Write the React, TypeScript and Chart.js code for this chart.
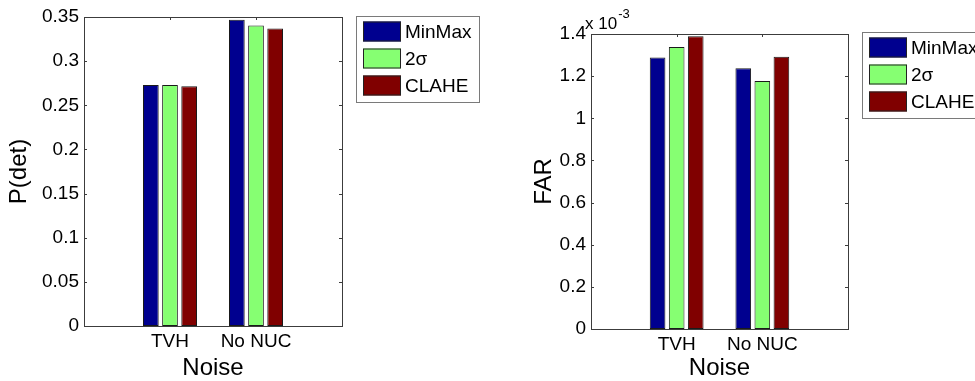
import React, { useEffect, useRef } from 'react';
import { Chart, registerables } from 'chart.js';

Chart.register(...registerables);

const categories = ['TVH', 'No NUC'];
const seriesNames = ['MinMax', '2σ', 'CLAHE'];
const seriesColors = ['#00008F', '#86FF72', '#800000'];

const pdetMinMax = [0.273, 0.347];
const pdet2Sigma = [0.273, 0.3405];
const pdetClahe = [0.2715, 0.337];

const farMinMax = [1.289e-3, 1.237e-3];
const far2Sigma = [1.338e-3, 1.177e-3];
const farClahe = [1.389e-3, 1.292e-3];

const pdetTicks = [0, 0.05, 0.1, 0.15, 0.2, 0.25, 0.3, 0.35];
const farTicks = [0, 0.0002, 0.0004, 0.0006, 0.0008, 0.001, 0.0012, 0.0014];

const FONT = '"Liberation Sans", Arial, Helvetica, sans-serif';

type PanelSpec = {
  width: number;
  height: number;
  series: number[][];
  ticks: number[];
  yTitle: string;
  fmt: (v: number) => string;
  padLeft: number;
  yWidth: number;
  padRight: number;
  padTop: number;
  xHeight: number;
  legendX: number;
  legendY: number;
  exponent?: { x: number; y: number };
};

function drawLegend(ctx: CanvasRenderingContext2D, x: number, y: number) {
  const w = 123;
  const h = 86;
  ctx.save();
  ctx.fillStyle = '#ffffff';
  ctx.fillRect(x, y, w, h);
  ctx.strokeStyle = '#7a7a7a';
  ctx.lineWidth = 1;
  ctx.strokeRect(x + 0.5, y + 0.5, w, h);
  ctx.font = `19px ${FONT}`;
  ctx.textBaseline = 'middle';
  ctx.textAlign = 'left';
  seriesNames.forEach((name, i) => {
    const py = y + 5.5 + i * 27;
    ctx.fillStyle = seriesColors[i];
    ctx.fillRect(x + 7, py, 38, 20);
    ctx.strokeStyle = '#222';
    ctx.strokeRect(x + 7.5, py + 0.5, 37, 19);
    ctx.fillStyle = '#000';
    ctx.fillText(name, x + 49, py + 11);
  });
  ctx.restore();
}

function makeChart(canvas: HTMLCanvasElement, spec: PanelSpec) {
  const labels = ['', ...categories, ''];
  const datasets = spec.series.map((vals, i) => ({
    label: seriesNames[i],
    data: [null, ...vals, null],
    backgroundColor: seriesColors[i],
    borderColor: '#1a1a1a',
    borderWidth: 1,
    borderSkipped: false,
    categoryPercentage: 0.668,
    barPercentage: 0.82,
  }));

  const panelPlugin = {
    id: 'panel',
    afterDraw(chart: any) {
      const { ctx, chartArea } = chart;
      const { left, right, top, bottom } = chartArea;
      const ys = chart.scales.y;
      const xs = chart.scales.x;
      ctx.save();
      ctx.strokeStyle = '#3c3c3c';
      ctx.lineWidth = 1;
      ctx.strokeRect(Math.round(left) + 0.5, Math.round(top) + 0.5, Math.round(right - left), Math.round(bottom - top));
      ctx.beginPath();
      const tl = 3;
      spec.ticks.forEach((v) => {
        const py = Math.round(ys.getPixelForValue(v)) + 0.5;
        ctx.moveTo(left, py);
        ctx.lineTo(left + tl, py);
        ctx.moveTo(right, py);
        ctx.lineTo(right - tl, py);
      });
      categories.forEach((_, i) => {
        const px = Math.round(xs.getPixelForValue(i + 1)) + 0.5;
        ctx.moveTo(px, top);
        ctx.lineTo(px, top + tl);
      });
      ctx.stroke();
      if (spec.exponent) {
        ctx.fillStyle = '#000';
        ctx.textBaseline = 'alphabetic';
        ctx.textAlign = 'left';
        ctx.font = `17px ${FONT}`;
        const base = 'x 10';
        ctx.fillText(base, spec.exponent.x, spec.exponent.y);
        const bw = ctx.measureText(base).width;
        ctx.font = `13px ${FONT}`;
        ctx.fillText('-3', spec.exponent.x + bw + 1, spec.exponent.y - 11);
      }
      ctx.restore();
      drawLegend(ctx, spec.legendX, spec.legendY);
    },
  };

  return new Chart(canvas, {
    type: 'bar',
    data: { labels, datasets: datasets as any },
    plugins: [panelPlugin],
    options: {
      animation: false,
      responsive: false,
      devicePixelRatio: 1,
      layout: {
        padding: { left: spec.padLeft, right: spec.padRight, top: spec.padTop, bottom: 0 },
      },
      plugins: {
        legend: { display: false },
        tooltip: { enabled: false },
        title: { display: false },
      },
      scales: {
        x: {
          type: 'category',
          offset: false,
          grid: { display: false, drawTicks: false },
          border: { display: false },
          ticks: {
            autoSkip: false,
            maxRotation: 0,
            minRotation: 0,
            padding: 4,
            color: '#000',
            font: { size: 19, family: FONT },
          },
          title: {
            display: true,
            text: 'Noise',
            color: '#000',
            padding: { top: 0, bottom: -2 },
            font: { size: 24, family: FONT },
          },
          afterFit: (s: any) => {
            s.height = spec.xHeight;
          },
        },
        y: {
          type: 'linear',
          min: 0,
          max: spec.ticks[spec.ticks.length - 1],
          grid: { display: false, drawTicks: false },
          border: { display: false },
          afterBuildTicks: (s: any) => {
            s.ticks = spec.ticks.map((v) => ({ value: v }));
          },
          ticks: {
            padding: 5,
            color: '#000',
            font: { size: 19, family: FONT },
            callback: (v: any) => spec.fmt(Number(v)),
          },
          title: {
            display: true,
            text: spec.yTitle,
            color: '#000',
            padding: { top: 5, bottom: 0 },
            font: { size: 24, family: FONT },
          },
          afterFit: (s: any) => {
            s.width = spec.yWidth;
          },
        },
      },
    } as any,
  });
}

export default function App() {
  const leftRef = useRef<HTMLCanvasElement | null>(null);
  const rightRef = useRef<HTMLCanvasElement | null>(null);

  useEffect(() => {
    Chart.defaults.font.family = FONT;
    Chart.defaults.color = '#000';
    const c1 = makeChart(leftRef.current!, {
      width: 487,
      height: 381,
      series: [pdetMinMax, pdet2Sigma, pdetClahe],
      ticks: pdetTicks,
      yTitle: 'P(det)',
      fmt: (v) => String(parseFloat(v.toFixed(3))),
      padLeft: 0,
      yWidth: 84,
      padRight: 487 - 342,
      padTop: 17,
      xHeight: 381 - 326,
      legendX: 356,
      legendY: 16,
    });
    const c2 = makeChart(rightRef.current!, {
      width: 488,
      height: 381,
      series: [farMinMax, far2Sigma, farClahe],
      ticks: farTicks,
      yTitle: 'FAR',
      fmt: (v) => String(parseFloat((v * 1000).toFixed(2))),
      padLeft: 38,
      yWidth: 66,
      padRight: 488 - 361,
      padTop: 34,
      xHeight: 381 - 329,
      legendX: 375,
      legendY: 32,
      exponent: { x: 98, y: 29 },
    });
    return () => {
      c1.destroy();
      c2.destroy();
    };
  }, []);

  return (
    <div
      style={{
        position: 'fixed',
        left: 0,
        top: 0,
        width: 975,
        height: 381,
        background: '#fff',
        overflow: 'hidden',
      }}
    >
      <canvas
        ref={leftRef}
        width={487}
        height={381}
        style={{ position: 'absolute', left: 0, top: 0, width: 487, height: 381 }}
      />
      <canvas
        ref={rightRef}
        width={488}
        height={381}
        style={{ position: 'absolute', left: 487, top: 0, width: 488, height: 381 }}
      />
    </div>
  );
}
